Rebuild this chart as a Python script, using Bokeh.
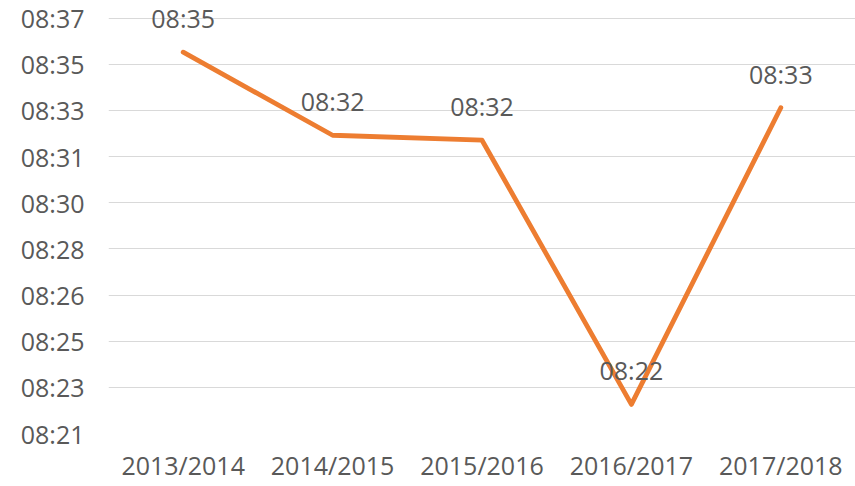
from bokeh.plotting import figure
from bokeh.models import ColumnDataSource, FixedTicker, CustomJSTickFormatter, Range1d, FactorRange
from bokeh.core.properties import value
from bokeh.embed import file_html
from bokeh.resources import INLINE

# ---- data ----
seasons = ["2013/2014", "2014/2015", "2015/2016", "2016/2017", "2017/2018"]
# average time, in minutes after 08:00
minutes_after_8 = [35.69, 32.49, 32.30, 22.12, 33.55]
point_labels = ["08:35", "08:32", "08:32", "08:22", "08:33"]
y_tick_labels = ["08:21", "08:23", "08:25", "08:26", "08:28",
                 "08:30", "08:31", "08:33", "08:35", "08:37"]
y_axis_min = 21.0
y_axis_max = 37.0

FONT = "Open Sans"
TXT = "#595959"
ORANGE = "#ED7D31"

n_ticks = len(y_tick_labels)
step = (y_axis_max - y_axis_min) / (n_ticks - 1)
tick_pos = [y_axis_min + k * step for k in range(n_ticks)]

# frame extends 18px above the top gridline so the top data label is not clipped
frame_h = 433
grid_h = 415.3
y_top = y_axis_min + (y_axis_max - y_axis_min) * frame_h / grid_h

src = ColumnDataSource(dict(x=seasons, y=minutes_after_8, lab=point_labels))

p = figure(width=855, height=486, output_backend="svg", toolbar_location=None,
           x_range=FactorRange(*seasons, range_padding=0),
           y_range=Range1d(y_axis_min, y_top),
           min_border_left=108, min_border_right=0, min_border_top=0, min_border_bottom=53)

p.outline_line_color = None
p.background_fill_color = "white"
p.border_fill_color = "white"
p.xgrid.grid_line_color = None
p.ygrid.grid_line_color = "#D9D9D9"
p.ygrid.grid_line_width = 1.2

p.yaxis.ticker = FixedTicker(ticks=tick_pos)
p.yaxis.formatter = CustomJSTickFormatter(args=dict(labels=y_tick_labels),
                                          code="return labels[index];")

for ax in (p.xaxis[0], p.yaxis[0]):
    ax.axis_line_color = None
    ax.major_tick_line_color = None
    ax.minor_tick_line_color = None
    ax.major_tick_out = 0
    ax.major_tick_in = 0
    ax.major_label_text_font = FONT
    ax.major_label_text_font_size = "25px"
    ax.major_label_text_color = TXT
p.yaxis.major_label_standoff = 24
p.xaxis.major_label_standoff = 14

p.line("x", "y", source=src, line_color=ORANGE, line_width=4.8,
       line_join="round", line_cap="round")
p.text("x", "y", text="lab", source=src, y_offset=-34,
       text_font=value(FONT), text_font_size="25px", text_color=TXT,
       text_align="center", text_baseline="middle")

open("out.html", "w").write(file_html(p, INLINE))
